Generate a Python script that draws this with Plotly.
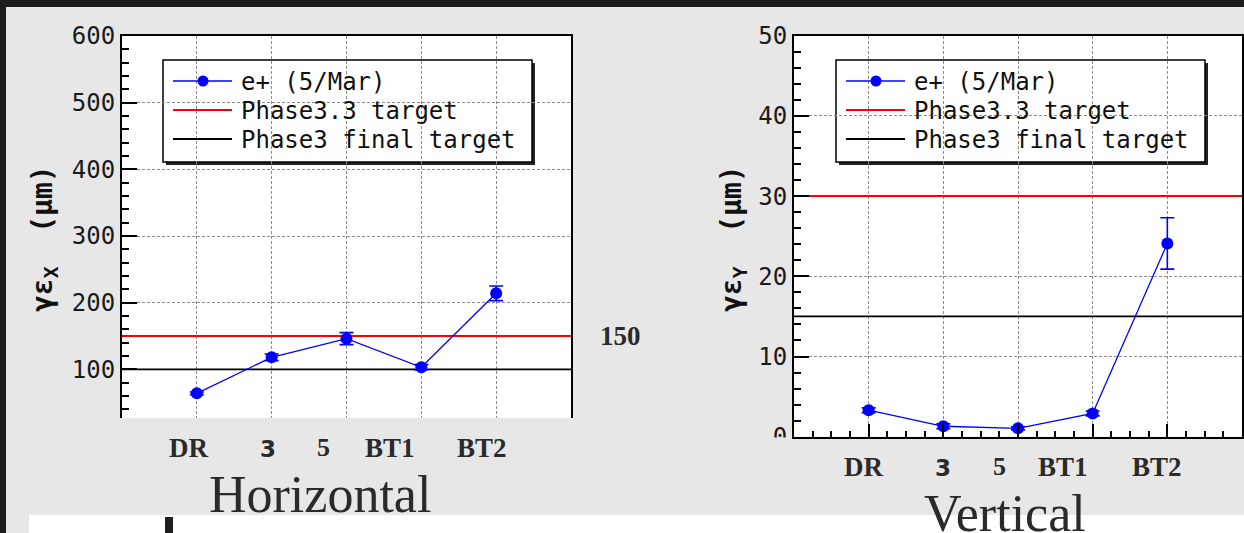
import plotly.graph_objects as go

W, H = 1244, 533

# ---------------- data ----------------
categories = ["DR", "3", "5", "BT1", "BT2"]
x_pos = [1, 2, 3, 4, 5]
emit_x = [64, 118, 146, 103, 214]
emit_x_err = [2, 5, 9, 4, 11]
emit_y = [3.3, 1.3, 1.05, 2.9, 24.1]
emit_y_err = [0.3, 0.3, 0.2, 0.3, 3.2]
phase33_target = [150, 30]      # [horizontal, vertical]
final_target = [100, 15]        # [horizontal, vertical]
legend_labels = ["e+ (5/Mar)", "Phase3.3 target", "Phase3 final target"]
x_span = [0, 6]


def P(x):
    return x / W


def Q(y):
    return 1 - y / H


BLUE = "#0000ff"
RED = "#ff0000"
BLACK = "#000000"
GRID = "#8c8c8c"
SLIDE_GRAY = "#e7e7e7"
TXT = "#2a2a2a"

fig = go.Figure()

for i, (xa, ya, vals, errs) in enumerate([("x", "y", emit_x, emit_x_err),
                                          ("x2", "y2", emit_y, emit_y_err)]):
    fig.add_trace(go.Scatter(
        x=x_span, y=[phase33_target[i]] * 2, xaxis=xa, yaxis=ya, mode="lines",
        line=dict(color=RED, width=2), showlegend=False, hoverinfo="skip"))
    fig.add_trace(go.Scatter(
        x=x_span, y=[final_target[i]] * 2, xaxis=xa, yaxis=ya, mode="lines",
        line=dict(color=BLACK, width=1.6), showlegend=False, hoverinfo="skip"))
    fig.add_trace(go.Scatter(
        x=x_pos, y=vals, xaxis=xa, yaxis=ya, mode="lines+markers",
        line=dict(color=BLUE, width=1.3),
        marker=dict(color=BLUE, size=12, symbol="circle"),
        error_y=dict(type="data", array=errs, color=BLUE, thickness=1.6, width=7),
        showlegend=False, name=legend_labels[0]))

tickfont = dict(family="DejaVu Sans Mono", size=24, color="#1a1a1a")


def yax(domain, rng, dtick, minor_dtick, anchor):
    return dict(domain=domain, range=rng, anchor=anchor, dtick=dtick, tick0=0,
                automargin=False,
                showline=True, linecolor=BLACK, linewidth=2, mirror=True,
                ticks="inside", ticklen=15, tickwidth=2, tickcolor=BLACK,
                showgrid=True, gridcolor=GRID, griddash="3px,2px", gridwidth=1,
                zeroline=False, tickfont=tickfont,
                minor=dict(dtick=minor_dtick, tick0=0, ticks="inside", ticklen=7,
                           tickwidth=2, tickcolor=BLACK, showgrid=False))


fig.update_layout(
    width=W, height=H, autosize=False,
    margin=dict(l=0, r=0, t=0, b=0, pad=0, autoexpand=False),
    paper_bgcolor="#1c1c1c", plot_bgcolor="rgba(0,0,0,0)",
    showlegend=False,
    xaxis=dict(domain=[P(122), P(571)], range=x_span, anchor="y", dtick=1, tick0=0,
               automargin=False,
               side="top", showline=True, linecolor=BLACK, linewidth=2, mirror=False,
               ticks="", showticklabels=False, showgrid=True, gridcolor=GRID,
               griddash="3px,2px", gridwidth=1, zeroline=False),
    yaxis=yax([Q(418), Q(36)], [27, 600], 100, 20, "x"),
    xaxis2=dict(domain=[P(794), P(1242)], range=x_span, anchor="y2", dtick=1, tick0=0,
                automargin=False,
                showline=True, linecolor=BLACK, linewidth=2, mirror=True,
                ticks="inside", ticklen=13, tickwidth=2, tickcolor=BLACK,
                showticklabels=False, showgrid=True, gridcolor=GRID,
                griddash="3px,2px", gridwidth=1, zeroline=False,
                minor=dict(dtick=0.25, tick0=0, ticks="inside", ticklen=6,
                           tickwidth=1.5, tickcolor=BLACK, showgrid=False)),
    yaxis2=yax([Q(436.7), Q(35.7)], [0, 50], 10, 2, "x2"),
)

shapes = []


def rect(x0, y0, x1, y1, fill, layer="below", line=None):
    d = dict(type="rect", xref="paper", yref="paper",
             x0=P(x0), x1=P(x1), y0=Q(y1), y1=Q(y0),
             fillcolor=fill, layer=layer, line=dict(width=0))
    if line:
        d["line"] = line
    shapes.append(d)


# slide backgrounds
rect(6, 7, W + 2, H + 2, SLIDE_GRAY)
rect(29, 515, W + 2, H + 2, "#ffffff")
rect(165, 517, 173, H + 2, "#1e1e1e")
# plot areas
rect(122, 36, 571, 418, "#ffffff")
rect(794, 35.7, 1242, 436.7, "#ffffff")

# legends (drawn manually, ROOT style with shadow)
legend_colors = [BLUE, RED, BLACK]
for dx in (0, 673):
    x0, x1, y0, y1 = 163 + dx, 532 + dx, 60, 162
    rect(x0 + 3, y0 + 3, x1 + 3, y1 + 3, "#222222")
    rect(x0, y0, x1, y1, "#ffffff", line=dict(color=BLACK, width=1.5))
    for k, (lab, col) in enumerate(zip(legend_labels, legend_colors)):
        yy = 81 + 29 * k
        shapes.append(dict(type="line", xref="paper", yref="paper",
                           x0=P(173 + dx), x1=P(232 + dx), y0=Q(yy), y1=Q(yy),
                           line=dict(color=col, width=1.6 if k == 0 else 2), layer="above"))
        if k == 0:
            shapes.append(dict(type="circle", xref="paper", yref="paper",
                               x0=P(197.5 + dx), x1=P(208.5 + dx), y0=Q(yy + 5.5), y1=Q(yy - 5.5),
                               fillcolor=BLUE, line=dict(color=BLUE, width=0), layer="above"))
        fig.add_annotation(x=P(239 + dx), y=Q(yy + 1), xref="paper", yref="paper",
                           text=lab, showarrow=False, xanchor="left", yanchor="middle",
                           font=dict(family="DejaVu Sans Mono", size=24, color="#111111"))

# cover the cropped bottom of the right plot's "0" label
rect(690, 437.6, 791, 515, SLIDE_GRAY, layer="above")

fig.update_layout(shapes=shapes)

# y-axis titles
for xc, sub in ((44, "X"), (733, "Y")):
    fig.add_annotation(x=P(xc), y=Q(239), xref="paper", yref="paper", textangle=-90,
                       text="γε<sub>" + sub + "</sub>\u00a0\u00a0(μm)", showarrow=False,
                       xanchor="center", yanchor="middle",
                       font=dict(family="DejaVu Sans Mono", size=28, color="#111111",
                                 weight="bold"))

# category labels placed on the slide
label_x_left = [188, 268, 323, 390, 482]
label_x_right = [863, 943, 999, 1063, 1157]
label_fonts = ["Liberation Serif", "DejaVu Sans", "Liberation Serif", "Liberation Serif", "Liberation Serif"]
label_sizes = [27, 23, 26, 27, 27]
label_dy = [0, 1, -1, 0, 0]
for xs, yc in ((label_x_left, 448), (label_x_right, 467)):
    for cat, xc, fam, sz, dy in zip(categories, xs, label_fonts, label_sizes, label_dy):
        fig.add_annotation(x=P(xc), y=Q(yc + dy), xref="paper", yref="paper", text=cat,
                           showarrow=False, xanchor="center", yanchor="middle",
                           font=dict(family=fam, size=sz, color=TXT, weight="bold"))

# panel titles and side note
fig.add_annotation(x=P(320), y=Q(494), xref="paper", yref="paper", text="Horizontal",
                   showarrow=False, xanchor="center", yanchor="middle",
                   font=dict(family="Liberation Serif", size=52, color=TXT))
fig.add_annotation(x=P(1005), y=Q(513), xref="paper", yref="paper", text="Vertical",
                   showarrow=False, xanchor="center", yanchor="middle",
                   font=dict(family="Liberation Serif", size=52, color=TXT))
fig.add_annotation(x=P(620), y=Q(336), xref="paper", yref="paper", text=str(phase33_target[0]),
                   showarrow=False, xanchor="center", yanchor="middle",
                   font=dict(family="Liberation Serif", size=27, color=TXT, weight="bold"))

fig.write_html("out.html")
